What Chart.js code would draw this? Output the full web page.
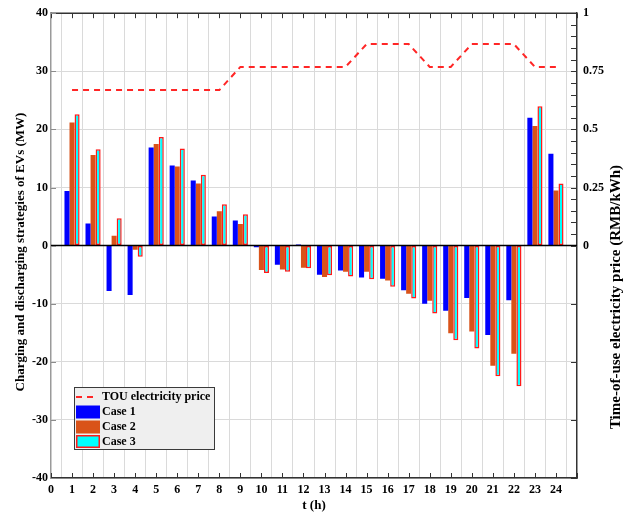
<!DOCTYPE html>
<html>
<head>
<meta charset="utf-8">
<script src="https://cdn.jsdelivr.net/npm/chart.js@4.4.1/dist/chart.umd.min.js"></script>
<style>
  html, body { margin: 0; padding: 0; background: #ffffff; }
  #wrap { width: 633px; height: 514px; }
</style>
</head>
<body>
<div id="wrap"><canvas id="evChart" width="633" height="514"></canvas></div>
<script>
// Hours of the day
const hours = [1, 2, 3, 4, 5, 6, 7, 8, 9, 10, 11, 12, 13, 14, 15, 16, 17, 18, 19, 20, 21, 22, 23, 24];

// Charging (+) / discharging (-) power of EVs, MW
const case1 = [9.4, 3.8, -7.8, -8.5, 16.9, 13.8, 11.2, 5.0, 4.3, -0.3, -3.3, 0.2,
               -5.0, -4.3, -5.5, -5.7, -7.7, -10.0, -11.2, -9.0, -15.4, -9.4, 22.0, 15.8];
const case2 = [21.2, 15.6, 1.7, -0.7, 17.5, 13.6, 10.7, 5.9, 3.7, -4.2, -4.1, -3.8,
               -5.4, -4.5, -4.5, -6.0, -8.3, -9.5, -15.1, -14.8, -20.7, -18.6, 20.6, 9.5];
const case3 = [22.6, 16.6, 4.7, -1.9, 18.7, 16.7, 12.2, 7.1, 5.4, -4.7, -4.5, -3.9,
               -5.1, -5.3, -5.8, -7.1, -9.1, -11.7, -16.3, -17.7, -22.5, -24.2, 24.0, 10.7];

// Time-of-use electricity price, RMB/kWh
const touPrice = [0.669, 0.669, 0.669, 0.669, 0.669, 0.669, 0.669, 0.669,
                  0.769, 0.769, 0.769, 0.769, 0.769, 0.769,
                  0.867, 0.867, 0.867, 0.769, 0.769,
                  0.867, 0.867, 0.867, 0.769, 0.769];

// Axis tick values
const powerTicks = [-40, -30, -20, -10, 0, 10, 20, 30, 40];
const priceTickLabels = [0, 0.25, 0.5, 0.75, 1];
const hourTicks = [0, 1, 2, 3, 4, 5, 6, 7, 8, 9, 10, 11, 12, 13, 14, 15, 16, 17, 18, 19, 20, 21, 22, 23, 24];

const SERIF = "'Liberation Serif', 'Times New Roman', 'DejaVu Serif', serif";
const toPoints = (vals) => hours.map((h, i) => ({ x: h, y: vals[i] }));

function drawVerticalTitle(ctx, text, cx, cy, size) {
  ctx.save();
  ctx.fillStyle = '#000000';
  ctx.font = 'bold ' + size + 'px ' + SERIF;
  ctx.textAlign = 'center';
  ctx.textBaseline = 'middle';
  ctx.translate(cx, cy);
  ctx.rotate(-Math.PI / 2);
  ctx.fillText(text, 0, 0);
  ctx.restore();
}

// Frame, inward tick marks, zero line, axis titles and the boxed legend
const framePlugin = {
  id: 'frameAndLegend',
  afterDatasetsDraw(chart) {
    const { ctx, chartArea: a, scales } = chart;
    const xs = scales.x, ys = scales.y, ps = scales.y1;
    ctx.save();
    // zero line
    ctx.strokeStyle = '#000000';
    ctx.lineWidth = 1.5;
    const y0 = ys.getPixelForValue(0);
    ctx.beginPath(); ctx.moveTo(a.left, y0); ctx.lineTo(a.right, y0); ctx.stroke();
    // top border
    ctx.strokeStyle = '#333333';
    ctx.lineWidth = 1.5;
    ctx.beginPath(); ctx.moveTo(a.left, a.top); ctx.lineTo(a.right, a.top); ctx.stroke();
    // x tick marks, top and bottom
    ctx.lineWidth = 1;
    for (let v = 0; v <= 25; v++) {
      const px = Math.round(xs.getPixelForValue(v)) + 0.5;
      ctx.beginPath();
      ctx.moveTo(px, a.bottom); ctx.lineTo(px, a.bottom - 5);
      ctx.moveTo(px, a.top); ctx.lineTo(px, a.top + 5);
      ctx.stroke();
    }
    // left tick marks
    ctx.strokeStyle = '#8c8c8c';
    powerTicks.forEach(v => {
      const py = Math.round(ys.getPixelForValue(v)) + 0.5;
      ctx.beginPath(); ctx.moveTo(a.left, py); ctx.lineTo(a.left + 5, py); ctx.stroke();
    });
    // right tick marks: major every 0.25, minor every 0.05 above zero
    ctx.strokeStyle = '#333333';
    for (let k = -4; k <= 4; k++) {
      const py = Math.round(ps.getPixelForValue(k * 0.25)) + 0.5;
      ctx.beginPath(); ctx.moveTo(a.right, py); ctx.lineTo(a.right - 6, py); ctx.stroke();
    }
    for (let k = 1; k < 20; k++) {
      const py = Math.round(ps.getPixelForValue(k * 0.05)) + 0.5;
      ctx.beginPath(); ctx.moveTo(a.right, py); ctx.lineTo(a.right - 6, py); ctx.stroke();
    }

    // axis titles, both reading bottom to top
    drawVerticalTitle(ctx, 'Charging and discharging strategies of EVs (MW)', 21, 252, 13);
    drawVerticalTitle(ctx, 'Time-of-use electricity price (RMB/kWh)', 616, 297, 15);

    // legend box
    const lx = 74, ly = 387, lw = 140, lh = 62;
    ctx.fillStyle = '#efefef';
    ctx.fillRect(lx, ly, lw, lh);
    ctx.strokeStyle = '#3a3a3a';
    ctx.lineWidth = 1;
    ctx.strokeRect(lx + 0.5, ly + 0.5, lw, lh);

    const ds = chart.data.datasets;
    const rows = [397, 412, 427, 441.5];
    ctx.font = 'bold 12px ' + SERIF;
    ctx.textAlign = 'left';
    ctx.textBaseline = 'middle';
    // line sample
    ctx.strokeStyle = ds[3].borderColor;
    ctx.lineWidth = 2;
    ctx.setLineDash([6, 5]);
    ctx.beginPath(); ctx.moveTo(76, rows[0]); ctx.lineTo(98, rows[0]); ctx.stroke();
    ctx.setLineDash([]);
    ctx.fillStyle = '#000000';
    ctx.fillText(ds[3].label, 102, rows[0]);
    // bar samples
    for (let i = 0; i < 3; i++) {
      const ry = rows[i + 1];
      ctx.fillStyle = ds[i].backgroundColor;
      ctx.fillRect(76, ry - 6.5, 24, 13);
      if (ds[i].borderWidth) {
        ctx.strokeStyle = ds[i].borderColor;
        ctx.lineWidth = 1.5;
        ctx.strokeRect(76.75, ry - 5.75, 22.5, 11.5);
      }
      ctx.fillStyle = '#000000';
      ctx.fillText(ds[i].label, 102, ry);
    }
    ctx.restore();
  }
};

new Chart(document.getElementById('evChart'), {
  type: 'bar',
  data: {
    datasets: [
      { label: 'Case 1', data: toPoints(case1), backgroundColor: '#0000ff', borderWidth: 0, yAxisID: 'y', order: 2 },
      { label: 'Case 2', data: toPoints(case2), backgroundColor: '#d95319', borderWidth: 0, yAxisID: 'y', order: 2 },
      { label: 'Case 3', data: toPoints(case3), backgroundColor: '#00ffff', borderColor: '#ff1a1a', borderWidth: 1.5,
        borderSkipped: false, yAxisID: 'y', order: 2 },
      { type: 'line', label: 'TOU electricity price', data: toPoints(touPrice), yAxisID: 'y1',
        borderColor: '#ff2626', borderWidth: 2, borderDash: [6, 5], pointRadius: 0, tension: 0, fill: false, order: 1 }
    ]
  },
  options: {
    responsive: false,
    animation: false,
    devicePixelRatio: 1,
    layout: { padding: { top: 12, left: 0, right: 0, bottom: 0 } },
    datasets: { bar: { categoryPercentage: 0.72, barPercentage: 1.0, grouped: true } },
    plugins: { legend: { display: false }, tooltip: { enabled: false } },
    scales: {
      x: {
        type: 'linear', min: 0, max: 25, offset: false,
        afterBuildTicks: (s) => { s.ticks = hourTicks.concat([25]).map(v => ({ value: v })); },
        afterFit: (s) => { s.height = 36; },
        ticks: {
          autoSkip: false, maxRotation: 0, padding: 5, color: '#000000',
          font: { family: SERIF, weight: 'bold', size: 12 },
          callback: (v) => (hourTicks.includes(v) ? String(v) : '')
        },
        grid: { color: '#dadada', lineWidth: 1, drawTicks: false },
        border: { display: true, color: '#333333', width: 1.5 },
        title: { display: true, text: 't (h)', color: '#000000', padding: { top: 0, bottom: 1 },
                 font: { family: SERIF, weight: 'bold', size: 13 } }
      },
      y: {
        position: 'left', min: -40, max: 40,
        afterBuildTicks: (s) => { s.ticks = powerTicks.map(v => ({ value: v })); },
        afterFit: (s) => { s.width = 51; },
        ticks: { padding: 3, color: '#000000', font: { family: SERIF, weight: 'bold', size: 12 } },
        grid: { color: (c) => (c.tick && c.tick.value === 0 ? 'rgba(0,0,0,0)' : '#dadada'), lineWidth: 1, drawTicks: false },
        border: { display: true, color: '#9a9a9a', width: 1.5 }
      },
      y1: {
        position: 'right', min: -1, max: 1,
        afterBuildTicks: (s) => { s.ticks = [-1, -0.75, -0.5, -0.25].concat(priceTickLabels).map(v => ({ value: v })); },
        afterFit: (s) => { s.width = 56; },
        ticks: {
          padding: 6, color: '#000000', font: { family: SERIF, weight: 'bold', size: 12 },
          callback: (v) => (priceTickLabels.includes(v) ? String(v) : '')
        },
        grid: { display: false, drawTicks: false },
        border: { display: true, color: '#333333', width: 1.5 }
      }
    }
  },
  plugins: [framePlugin]
});
</script>
</body>
</html>
